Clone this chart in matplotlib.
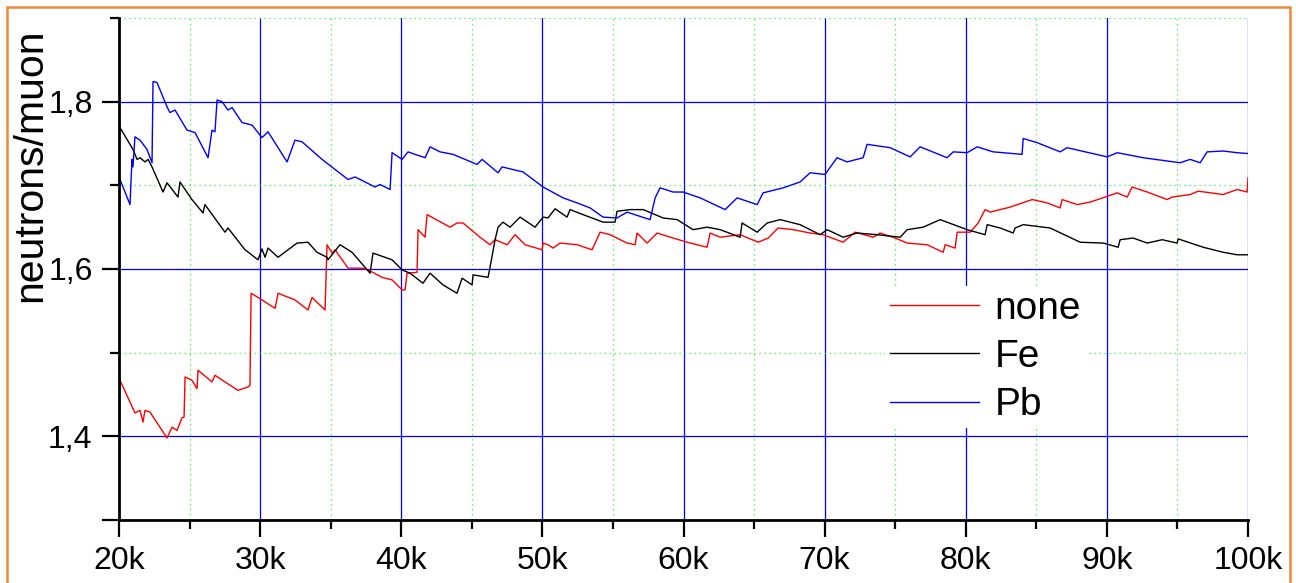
import matplotlib
matplotlib.use("Agg")
import matplotlib.pyplot as plt
from matplotlib.patches import Rectangle
from matplotlib.ticker import MultipleLocator, FixedLocator, FixedFormatter

plt.rcParams['font.family'] = ['Liberation Sans', 'DejaVu Sans']

# x in thousands, y = neutrons/muon
none_x = [20.07, 21.13, 21.49, 21.70, 21.84, 22.20, 23.40, 23.76, 24.11, 24.46, 24.61, 24.68,
          25.17, 25.53, 25.60, 26.59, 26.80, 27.51, 28.43, 29.14, 29.28, 29.36, 29.85, 31.06,
          31.27, 32.47, 33.39, 33.68, 34.60, 34.74, 35.10, 35.31, 36.23, 37.22, 37.65, 38.64,
          39.35, 40.06, 40.27, 40.41, 41.12, 41.19, 41.69, 41.83, 43.46, 43.95, 44.38, 45.58,
          46.29, 46.65, 47.50, 48.07, 48.77, 49.98, 50.05, 50.40, 50.76, 51.25, 52.46, 53.52,
          54.09, 54.80, 56.00, 56.57, 56.71, 57.42, 58.13, 59.26, 60.26, 61.67, 61.89, 62.60,
          64.01, 65.29, 66.00, 66.70, 67.77, 68.97, 69.89, 71.31, 72.16, 73.44, 73.93, 75.00,
          75.85, 77.26, 78.40, 78.54, 79.25, 79.39, 80.31, 80.88, 81.37, 81.73, 83.15, 84.71,
          85.77, 86.69, 86.83, 87.90, 88.82, 89.88, 90.73, 91.44, 91.79, 92.86, 94.27, 94.63,
          95.90, 96.47, 98.24, 99.23, 99.94, 100.0]
none_y = [1.467, 1.428, 1.431, 1.417, 1.431, 1.429, 1.398, 1.411, 1.407, 1.422, 1.423, 1.471,
          1.467, 1.457, 1.479, 1.465, 1.473, 1.465, 1.455, 1.459, 1.461, 1.571, 1.566, 1.553,
          1.571, 1.563, 1.551, 1.566, 1.551, 1.629, 1.619, 1.623, 1.601, 1.601, 1.599, 1.590,
          1.587, 1.575, 1.575, 1.595, 1.596, 1.647, 1.638, 1.665, 1.650, 1.655, 1.655, 1.638,
          1.629, 1.635, 1.629, 1.641, 1.629, 1.623, 1.631, 1.629, 1.625, 1.631, 1.629, 1.623,
          1.644, 1.641, 1.631, 1.629, 1.643, 1.631, 1.643, 1.637, 1.632, 1.626, 1.643, 1.638,
          1.641, 1.632, 1.637, 1.649, 1.647, 1.643, 1.641, 1.632, 1.644, 1.638, 1.643, 1.637,
          1.631, 1.629, 1.620, 1.629, 1.625, 1.644, 1.644, 1.655, 1.671, 1.668, 1.674, 1.683,
          1.679, 1.673, 1.683, 1.677, 1.680, 1.686, 1.691, 1.686, 1.698, 1.692, 1.683, 1.686,
          1.689, 1.693, 1.689, 1.695, 1.692, 1.709]

fe_x = [20.07, 20.99, 21.28, 21.49, 21.84, 22.06, 22.34, 23.12, 23.40, 24.18, 24.32, 25.17,
        25.95, 26.09, 27.51, 27.72, 28.93, 29.85, 30.13, 30.35, 30.56, 31.27, 31.98, 32.62,
        33.39, 34.03, 34.74, 34.81, 35.66, 36.51, 37.79, 38.00, 39.35, 40.06, 40.62, 41.54,
        42.04, 42.96, 43.95, 44.31, 45.02, 45.09, 46.15, 46.29, 46.65, 46.86, 47.21, 47.71,
        48.42, 49.48, 50.05, 50.40, 50.90, 51.75, 51.96, 52.88, 54.30, 55.15, 55.29, 56.21,
        57.14, 57.99, 58.55, 59.55, 60.68, 61.67, 62.60, 64.01, 64.15, 65.22, 65.93, 66.85,
        68.26, 69.68, 70.18, 71.31, 72.30, 73.72, 75.35, 75.85, 76.98, 78.19, 80.10, 81.37,
        81.52, 82.44, 83.36, 83.50, 84.07, 85.98, 88.11, 89.74, 90.80, 90.94, 91.86, 92.86,
        93.92, 94.98, 95.05, 96.83, 98.24, 99.23, 100.0]
fe_y = [1.769, 1.743, 1.731, 1.733, 1.728, 1.731, 1.722, 1.692, 1.703, 1.686, 1.704, 1.683,
        1.667, 1.677, 1.644, 1.649, 1.623, 1.611, 1.624, 1.614, 1.625, 1.614, 1.623, 1.631,
        1.632, 1.620, 1.614, 1.611, 1.629, 1.620, 1.595, 1.619, 1.611, 1.599, 1.595, 1.583,
        1.595, 1.581, 1.571, 1.589, 1.581, 1.593, 1.590, 1.602, 1.635, 1.650, 1.656, 1.650,
        1.662, 1.650, 1.662, 1.661, 1.672, 1.662, 1.671, 1.665, 1.656, 1.656, 1.669, 1.671,
        1.671, 1.665, 1.661, 1.659, 1.647, 1.650, 1.647, 1.638, 1.655, 1.644, 1.655, 1.659,
        1.653, 1.641, 1.647, 1.638, 1.643, 1.641, 1.638, 1.647, 1.650, 1.659, 1.647, 1.641,
        1.653, 1.649, 1.643, 1.649, 1.653, 1.649, 1.632, 1.631, 1.626, 1.635, 1.637, 1.631,
        1.635, 1.631, 1.636, 1.626, 1.620, 1.617, 1.617]

pb_x = [20.07, 20.78, 20.92, 20.99, 21.13, 21.49, 21.98, 22.34, 22.41, 22.69, 23.40, 23.61,
        23.97, 24.82, 25.39, 26.31, 26.59, 26.80, 26.95, 27.30, 27.72, 28.01, 28.72, 29.43,
        30.13, 30.56, 31.91, 32.47, 32.97, 34.39, 36.23, 36.73, 38.14, 38.50, 39.21, 39.35,
        40.06, 40.48, 40.98, 41.69, 42.04, 42.75, 43.67, 45.37, 45.73, 46.86, 47.14, 48.63,
        50.05, 51.47, 52.46, 53.38, 54.30, 55.29, 56.00, 57.63, 57.99, 58.34, 59.26, 59.97,
        61.18, 62.95, 63.80, 65.22, 65.64, 67.06, 68.26, 68.97, 70.03, 70.88, 71.59, 72.73,
        73.01, 74.64, 76.06, 76.77, 78.68, 79.11, 80.10, 80.81, 81.94, 82.65, 83.99, 84.07,
        85.06, 86.69, 87.18, 90.02, 90.73, 92.57, 95.19, 95.90, 96.61, 97.10, 98.24, 99.23,
        100.0]
pb_y = [1.707, 1.677, 1.731, 1.722, 1.758, 1.754, 1.743, 1.727, 1.824, 1.823, 1.794, 1.787,
        1.790, 1.766, 1.763, 1.733, 1.766, 1.764, 1.802, 1.800, 1.790, 1.793, 1.775, 1.772,
        1.757, 1.764, 1.728, 1.754, 1.752, 1.731, 1.707, 1.710, 1.698, 1.701, 1.695, 1.739,
        1.731, 1.740, 1.737, 1.733, 1.746, 1.740, 1.737, 1.725, 1.731, 1.715, 1.722, 1.716,
        1.698, 1.685, 1.679, 1.673, 1.662, 1.661, 1.668, 1.659, 1.685, 1.697, 1.692, 1.692,
        1.685, 1.671, 1.685, 1.677, 1.691, 1.697, 1.704, 1.715, 1.713, 1.733, 1.728, 1.733,
        1.749, 1.745, 1.734, 1.746, 1.733, 1.740, 1.739, 1.746, 1.740, 1.739, 1.737, 1.756,
        1.751, 1.740, 1.745, 1.734, 1.739, 1.733, 1.727, 1.731, 1.727, 1.740, 1.741, 1.739,
        1.738]

x_ticks = [20, 30, 40, 50, 60, 70, 80, 90, 100]
x_labels = ['20k', '30k', '40k', '50k', '60k', '70k', '80k', '90k', '100k']
y_ticks = [1.3, 1.4, 1.6, 1.8]
y_labels = ['', '1,4', '1,6', '1,8']

fig = plt.figure(figsize=(12.96, 5.83), dpi=100)
ax = fig.add_axes([119 / 1296, 63 / 583, 1129 / 1296, 502 / 583])

ax.plot(none_x, none_y, color='#FF0000', lw=1.0, label='none')
ax.plot(fe_x, fe_y, color='#000000', lw=1.0, label='Fe')
ax.plot(pb_x, pb_y, color='#0000FF', lw=1.0, label='Pb')

ax.set_xlim(20, 100)
ax.set_ylim(1.3, 1.9)

ax.xaxis.set_major_locator(FixedLocator(x_ticks))
ax.xaxis.set_major_formatter(FixedFormatter(x_labels))
ax.xaxis.set_minor_locator(MultipleLocator(5))
ax.yaxis.set_major_locator(FixedLocator(y_ticks))
ax.yaxis.set_major_formatter(FixedFormatter(y_labels))
ax.yaxis.set_minor_locator(FixedLocator([1.5, 1.7, 1.9]))

ax.grid(True, which='major', color='#0000FF', lw=0.9)
ax.grid(True, which='minor', color='#33EE33', lw=0.9, linestyle=(0, (1, 3)))

for s in ['top', 'right']:
    ax.spines[s].set_visible(False)
for s in ['left', 'bottom']:
    ax.spines[s].set_linewidth(2)
    ax.spines[s].set_zorder(3)

ax.tick_params(which='major', length=12, width=1.6, labelsize=23, pad=7)
ax.tick_params(which='minor', length=6.5, width=1.6)

ax.set_ylabel('neutrons/muon', fontsize=29.5)
ax.yaxis.set_label_coords(-0.062, 0.707)

leg = ax.legend(loc='center left', bbox_to_anchor=(885 / 1296, 1 - 357 / 583),
                bbox_transform=fig.transFigure, fontsize=28, frameon=True,
                fancybox=False, framealpha=1, facecolor='white', edgecolor='none',
                handlelength=2.3, handletextpad=0.4, labelspacing=0.32,
                borderpad=0.12, borderaxespad=0)

fig.add_artist(Rectangle((7 / 1296, -0.05), 1283 / 1296, 1.05 - 7 / 583,
                         transform=fig.transFigure, fill=False,
                         edgecolor='#F0883C', lw=1.8))

fig.savefig('out.png', dpi=100, facecolor='white')
